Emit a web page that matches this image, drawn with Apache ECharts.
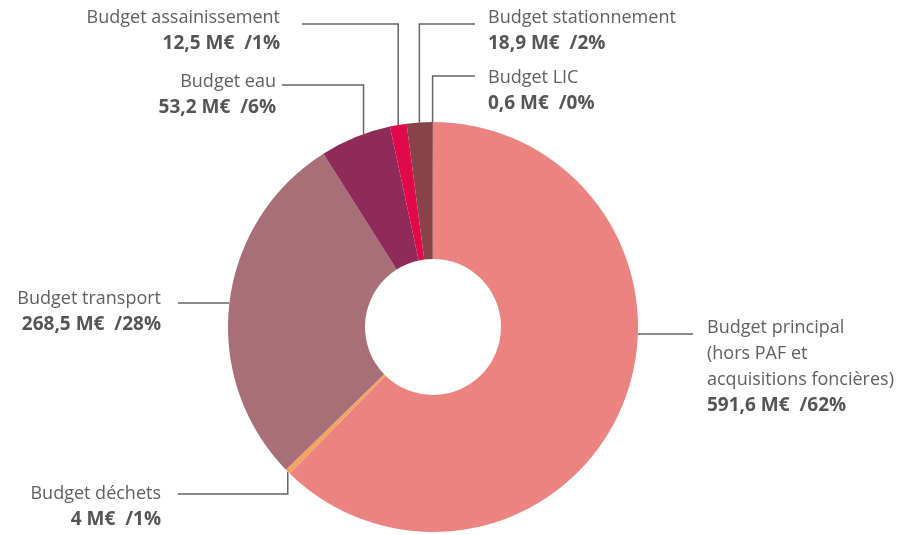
<!DOCTYPE html>
<html>
<head>
<meta charset="utf-8">
<script src="https://cdn.jsdelivr.net/npm/echarts@6/dist/echarts.min.js"></script>
<style>
    html, body {
        margin: 0;
        padding: 0;
        background: #fff;
    }

    #chart {
        width: 904px;
        height: 535px;
    }
</style>
</head>
<body>
<div id="chart"></div>
<script>
const names = ['Budget principal\n(hors PAF et\nacquisitions foncières)', 'Budget déchets', 'Budget transport',
    'Budget eau', 'Budget assainissement', 'Budget stationnement', 'Budget LIC']
const values = [591.6, 4, 268.5, 53.2, 12.5, 18.9, 0.6]
const percents = ['62%', '1%', '28%', '6%', '1%', '2%', '0%']
const colors = ['#eb8481', '#f3a463', '#a86f79', '#8e2b59', '#e2094b', '#874448', '#7d3f43']

const cx = 433, cy = 327, r0 = 68, r = 205

// where each label sits and how its leader line is routed
// mode 'v': up/down from the slice edge then sideways, 'h': straight out at lineY
// frac: where along the slice the line leaves (0.5 = middle)
const labelPos = [
    {x: 707, y: 315, align: 'left', mode: 'h', lineY: 334, endX: 693},
    {x: 161, y: 481, align: 'right', mode: 'v', lineY: 494, endX: 178},
    {x: 161, y: 286, align: 'right', mode: 'h', lineY: 303, endX: 178},
    {x: 276, y: 69, align: 'right', mode: 'v', lineY: 85, endX: 282, frac: 0.62},
    {x: 280, y: 5, align: 'right', mode: 'v', lineY: 24, endX: 302},
    {x: 488, y: 5, align: 'left', mode: 'v', lineY: 24, endX: 475},
    {x: 488, y: 65, align: 'left', mode: 'v', lineY: 76, endX: 475}
]

const total = values.reduce((a, b) => a + b, 0)
const startAngles = []
let acc = 0
values.forEach(v => {
    startAngles.push(acc / total * Math.PI * 2)
    acc += v
})

const fmtValue = v => String(v).replace('.', ',')

const chart = echarts.init(document.getElementById('chart'))

const option = {
    animation: false,
    series: [{
        type: 'pie',
        center: [cx, cy],
        radius: [r0, r],
        startAngle: 90,
        clockwise: true,
        avoidLabelOverlap: false,
        silent: true,
        data: values.map((v, i) => ({
            name: names[i],
            value: v,
            itemStyle: {color: colors[i]}
        })),
        label: {
            show: true,
            position: 'outside',
            formatter: (p) => {
                const i = p.dataIndex
                const lines = names[i].split('\n').map(s => '{n|' + s + '}')
                lines.push('{b|' + fmtValue(values[i]) + ' M€  /' + percents[i] + '}')
                return lines.join('\n')
            },
            rich: {
                n: {
                    fontFamily: 'Open Sans',
                    fontSize: 18,
                    color: '#5f5f5f',
                    lineHeight: 26
                },
                b: {
                    fontFamily: 'Open Sans',
                    fontSize: 19,
                    fontWeight: 'bold',
                    color: '#555555',
                    lineHeight: 26
                }
            }
        },
        labelLine: {
            show: true,
            length: 10,
            length2: 10,
            lineStyle: {color: '#666666', width: 1.5}
        },
        labelLayout: (params) => {
            const i = params.dataIndex
            const p = labelPos[i]
            let pts
            if (p.mode === 'v') {
                const frac = p.frac == null ? 0.5 : p.frac
                const a = startAngles[i] + frac * values[i] / total * Math.PI * 2
                const sx = cx + r * Math.sin(a)
                const sy = cy - r * Math.cos(a)
                pts = [[sx, sy], [sx, p.lineY], [p.endX, p.lineY]]
            } else {
                const dx = Math.sqrt(r * r - (p.lineY - cy) * (p.lineY - cy))
                const sx = p.align === 'left' ? cx + dx : cx - dx
                pts = [[sx, p.lineY], [sx, p.lineY], [p.endX, p.lineY]]
            }
            return {
                x: p.x,
                y: p.y,
                align: p.align,
                verticalAlign: 'top',
                labelLinePoints: pts
            }
        }
    }]
}

chart.setOption(option)
</script>
</body>
</html>
